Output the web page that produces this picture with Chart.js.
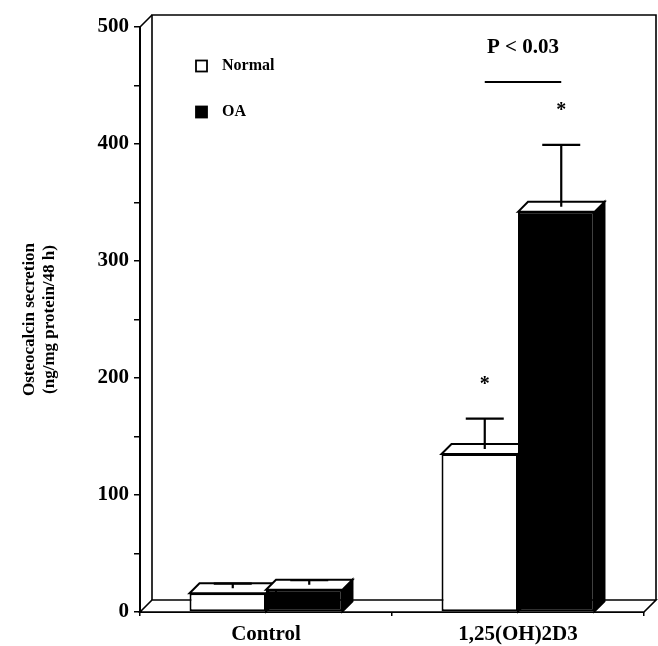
<!DOCTYPE html>
<html>
<head>
<meta charset="utf-8">
<style>
  body { margin: 0; background: #fff; }
  #wrap { width: 658px; height: 646px; }
</style>
<script src="https://cdn.jsdelivr.net/npm/chart.js@4/dist/chart.umd.min.js"></script>
</head>
<body>
<div id="wrap"><canvas id="chart" width="658" height="646"></canvas></div>
<script>
const categories = ['Control', '1,25(OH)2D3'];
const normalMean = [16, 135];
const normalSD = [4, 26];
const oaMean = [19, 342];
const oaSD = [4, 53];
const normalStar = [false, true];
const oaStar = [false, true];
const yTicks = [0, 100, 200, 300, 400, 500];
const pLabel = 'P < 0.03';
const pLevel = 453;

const serif = '"Liberation Serif", "Times New Roman", serif';
const wallDepth = { x: 12, y: -12 };
const barDepth = { x: 10, y: -10 };

function poly(ctx, pts, fill) {
    ctx.beginPath();
    ctx.moveTo(pts[0][0], pts[0][1]);
    for (let i = 1; i < pts.length; i++) ctx.lineTo(pts[i][0], pts[i][1]);
    ctx.closePath();
    if (fill) { ctx.fillStyle = fill; ctx.fill(); }
    ctx.stroke();
}

// back wall, floor and the top/side faces of the bars
const depthPlugin = {
    id: 'depth',
    beforeDatasetsDraw(chart) {
        const { ctx, chartArea: a } = chart;
        ctx.save();
        ctx.strokeStyle = '#000';
        ctx.lineWidth = 1.6;
        ctx.lineJoin = 'miter';
        const dx = wallDepth.x, dy = wallDepth.y;
        // wall
        ctx.beginPath();
        ctx.moveTo(a.left + dx, a.bottom + dy);
        ctx.lineTo(a.left + dx, a.top + dy);
        ctx.lineTo(a.right + dx, a.top + dy);
        ctx.lineTo(a.right + dx, a.bottom + dy);
        ctx.stroke();
        ctx.beginPath();
        ctx.moveTo(a.left, a.top);
        ctx.lineTo(a.left + dx, a.top + dy);
        ctx.stroke();
        // floor
        poly(ctx, [[a.left, a.bottom], [a.left + dx, a.bottom + dy],
                   [a.right + dx, a.bottom + dy], [a.right, a.bottom]], '#fff');

        ctx.lineWidth = 2;
        chart.data.datasets.forEach((ds, i) => {
            chart.getDatasetMeta(i).data.forEach(bar => {
                const x0 = bar.x - bar.width / 2, x1 = bar.x + bar.width / 2;
                const yt = bar.y, yb = bar.base;
                const bx = barDepth.x, by = barDepth.y;
                poly(ctx, [[x1, yt], [x1 + bx, yt + by], [x1 + bx, yb + by], [x1, yb]], ds.backgroundColor);
                poly(ctx, [[x0, yt], [x0 + bx, yt + by], [x1 + bx, yt + by], [x1, yt]], '#fff');
            });
        });
        ctx.restore();
    },
    afterDatasetsDraw(chart) {
        const { ctx } = chart;
        const y = chart.scales.y;
        const sds = [normalSD, oaSD];
        const stars = [normalStar, oaStar];
        const stemX = [];
        ctx.save();
        ctx.strokeStyle = '#000';
        ctx.fillStyle = '#000';
        ctx.lineWidth = 2.2;
        chart.data.datasets.forEach((ds, i) => {
            stemX[i] = [];
            chart.getDatasetMeta(i).data.forEach((bar, j) => {
                const cx = bar.x + barDepth.x / 2;
                const y0 = bar.y + barDepth.y / 2;
                const y1 = y.getPixelForValue(ds.data[j] + sds[i][j]) + barDepth.y / 2;
                stemX[i][j] = cx;
                ctx.beginPath();
                ctx.moveTo(cx, y0);
                ctx.lineTo(cx, y1);
                ctx.moveTo(cx - 19, y1);
                ctx.lineTo(cx + 19, y1);
                ctx.stroke();
                if (stars[i][j]) {
                    ctx.font = 'bold 20px ' + serif;
                    ctx.textAlign = 'center';
                    ctx.textBaseline = 'middle';
                    ctx.fillText('*', cx, y1 - 34);
                }
            });
        });
        // significance bracket between the two treated bars
        const ly = y.getPixelForValue(pLevel);
        ctx.lineWidth = 1.8;
        ctx.beginPath();
        ctx.moveTo(stemX[0][1], ly);
        ctx.lineTo(stemX[1][1], ly);
        ctx.stroke();
        ctx.font = 'bold 21px ' + serif;
        ctx.textAlign = 'center';
        ctx.textBaseline = 'middle';
        ctx.fillText(pLabel, (stemX[0][1] + stemX[1][1]) / 2, ly - 34);

        // legend
        ctx.font = 'bold 16px ' + serif;
        ctx.textAlign = 'left';
        chart.data.datasets.forEach((ds, i) => {
            const ty = 66 + i * 46;
            ctx.lineWidth = 1.8;
            ctx.fillStyle = ds.backgroundColor;
            ctx.fillRect(196, ty - 5.5, 11, 11);
            ctx.strokeRect(196, ty - 5.5, 11, 11);
            ctx.fillStyle = '#000';
            ctx.fillText(ds.label, 222, ty);
        });
        ctx.restore();
    }
};

const ctx = document.getElementById('chart').getContext('2d');

new Chart(ctx, {
    type: 'bar',
    data: {
        labels: categories,
        datasets: [
            { label: 'Normal', data: normalMean, backgroundColor: '#fff', borderColor: '#000', borderWidth: 2, borderSkipped: false },
            { label: 'OA', data: oaMean, backgroundColor: '#000', borderColor: '#000', borderWidth: 2, borderSkipped: false }
        ]
    },
    options: {
        responsive: false,
        animation: false,
        layout: { padding: { top: 27, right: 14, left: 0, bottom: 0 } },
        categoryPercentage: 0.607,
        barPercentage: 1.0,
        plugins: {
            legend: { display: false },
            tooltip: { enabled: false }
        },
        scales: {
            x: {
                afterFit: s => { s.height = 34; },
                grid: { drawOnChartArea: false, tickLength: 4, color: '#000', lineWidth: 1.5 },
                border: { color: '#000', width: 2 },
                ticks: { color: '#000', padding: 6, font: { family: serif, size: 21, weight: 'bold' } }
            },
            y: {
                min: 0,
                max: 500,
                afterFit: s => { s.width = 140; },
                afterBuildTicks: s => {
                    const t = [];
                    for (let v = yTicks[0]; v <= yTicks[yTicks.length - 1]; v += 50) t.push({ value: v });
                    s.ticks = t;
                },
                grid: { drawOnChartArea: false, tickLength: 6, color: '#000', lineWidth: 1.5 },
                border: { color: '#000', width: 2 },
                ticks: {
                    color: '#000',
                    padding: 5,
                    font: { family: serif, size: 21, weight: 'bold' },
                    callback: v => yTicks.includes(v) ? v : ''
                },
                title: {
                    display: true,
                    text: ['Osteocalcin secretion', '(ng/mg protein/48 h)'],
                    color: '#000',
                    padding: { top: 19, bottom: 0 },
                    font: { family: serif, size: 17, weight: 'bold', lineHeight: 1.2 }
                }
            }
        }
    },
    plugins: [depthPlugin]
});
</script>
</body>
</html>
